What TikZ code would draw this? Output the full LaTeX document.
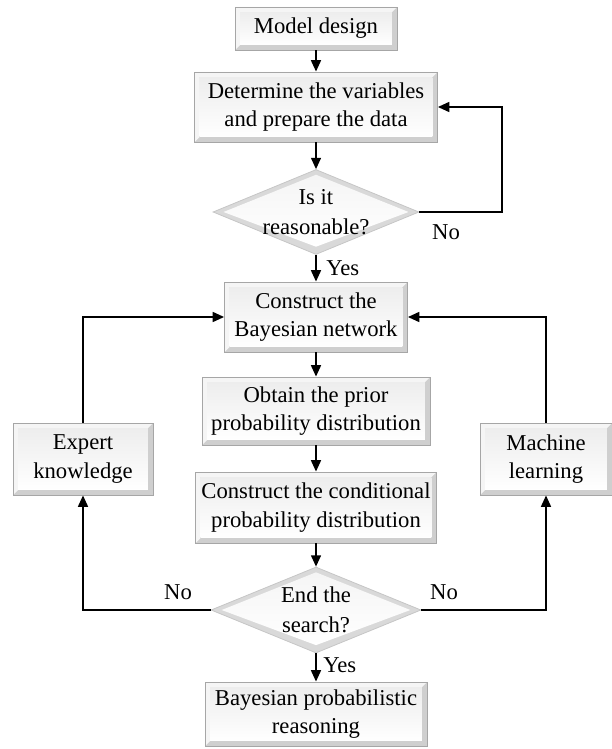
\documentclass[tikz,border=0pt]{standalone}
\usepackage{fontspec}
\setmainfont{Liberation Serif}
\usetikzlibrary{shapes.geometric,arrows.meta,calc}
\tikzset{
  txt/.style={font=\fontsize{17}{21.5}\selectfont, align=center, text=black},
  bevel/.style={txt, rectangle, draw=gray!70, line width=0.7pt, inner sep=0pt,
    path picture={
      \fill[gray!38] (path picture bounding box.north west) rectangle (path picture bounding box.south east);
      \fill[gray!8] (path picture bounding box.north west) -- (path picture bounding box.north east)
        -- ([shift={(-3.8pt,-3.8pt)}]path picture bounding box.north east)
        -- ([shift={(3.8pt,-3.8pt)}]path picture bounding box.north west)
        -- ([shift={(3.8pt,3.8pt)}]path picture bounding box.south west)
        -- (path picture bounding box.south west) -- cycle;
      \shade[top color=gray!14, bottom color=white] ([shift={(3.8pt,-3.8pt)}]path picture bounding box.north west) rectangle ([shift={(-3.8pt,3.8pt)}]path picture bounding box.south east);
    }},
  dia/.style={diamond, draw=gray!45, line width=0.6pt, inner sep=0pt,
    path picture={
      \fill[gray!30] (path picture bounding box.north) -- (path picture bounding box.east) -- (path picture bounding box.south) -- (path picture bounding box.west) -- cycle;
      \shade[top color=gray!8, bottom color=white] ($(path picture bounding box.center)!0.88!(path picture bounding box.north)$)
        -- ($(path picture bounding box.center)!0.9!(path picture bounding box.east)$)
        -- ($(path picture bounding box.center)!0.82!(path picture bounding box.south)$)
        -- ($(path picture bounding box.center)!0.9!(path picture bounding box.west)$) -- cycle;
    }},
  arr/.style={line width=1.1pt, -{Triangle[length=8.5pt,width=7.5pt]}},
  lab/.style={txt, inner sep=0pt}
}
\begin{document}
\begin{tikzpicture}[x=0.75pt,y=-0.75pt]
\useasboundingbox (0,0) rectangle (611,749);
\node[bevel, minimum width=121.5pt, minimum height=32.25pt] (md) at (316,28.5) {Model design};
\node[bevel, minimum width=182.25pt, minimum height=52.5pt] (det) at (316,107) {Determine the variables\\and prepare the data};
\node[dia, minimum width=154.5pt, minimum height=63.75pt,
  label={[txt, name=d1t]center:{Is it\\[1pt]reasonable?}}] (d1) at (316,212) {};
\node[bevel, minimum width=137.25pt, minimum height=52.5pt] (cb) at (316,317) {Construct the\\Bayesian network};
\node[bevel, minimum width=171pt, minimum height=51pt] (op) at (316,411) {Obtain the prior\\probability distribution};
\node[bevel, minimum width=180.75pt, minimum height=53.25pt] (cc) at (316,507.5) {Construct the conditional\\probability distribution};
\node[dia, minimum width=157.5pt, minimum height=64.5pt,
  label={[txt, name=d2t]center:{End the\\[1pt]search?}}] (d2) at (316,610) {};
\node[bevel, minimum width=166.5pt, minimum height=48pt] (br) at (316,714) {Bayesian probabilistic\\reasoning};
\node[bevel, minimum width=105pt, minimum height=54pt] (exp) at (83,459) {Expert\\knowledge};
\node[bevel, minimum width=99pt, minimum height=54pt] (ml) at (546,459) {Machine\\learning};

\draw[arr] (md.south) -- (det.north);
\draw[arr] (det.south) -- (d1.north);
\draw[arr] (d1.south) -- (cb.north);
\draw[arr] (cb.south) -- (op.north);
\draw[arr] (op.south) -- (cc.north);
\draw[arr] (cc.south) -- (d2.north);
\draw[arr] (d2.south) -- (br.north);

\coordinate (r1) at (502,212);
\draw[arr] (d1.east) -- (r1) |- (det.east);
\draw[arr] (exp.north) |- (cb.west);
\draw[arr] (ml.north) |- (cb.east);
\draw[arr] (d2.west) -| (exp.south);
\draw[arr] (d2.east) -| (ml.south);

\node[lab] (no1) at (446,232) {No};
\node[lab, anchor=west] (yes1) at (326,268) {Yes};
\node[lab] (no2) at (178,592) {No};
\node[lab] (no3) at (444,592) {No};
\node[lab, anchor=west] (yes2) at (323,665) {Yes};
\end{tikzpicture}
\end{document}
